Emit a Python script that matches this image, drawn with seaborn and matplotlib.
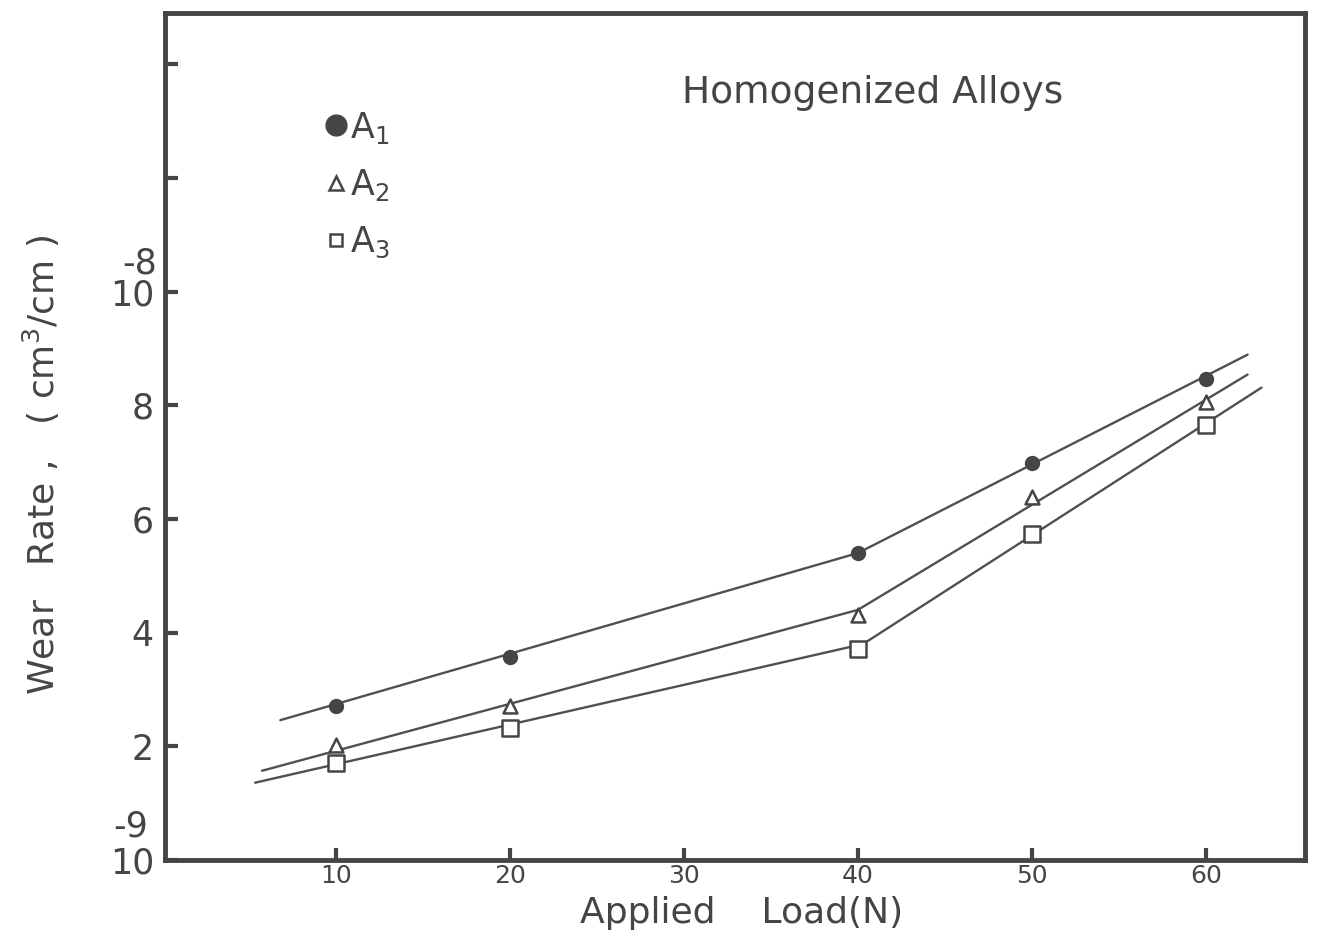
import pandas as pd
import matplotlib.pyplot as plt
import seaborn as sns
from matplotlib.lines import Line2D

# Measured points (applied load in N, wear rate in 1e-9 cm3/cm)
loads = [10, 20, 40, 50, 60]
wear_a1 = [2.71, 3.57, 5.40, 6.99, 8.47]
wear_a2 = [2.02, 2.71, 4.31, 6.39, 8.05]
wear_a3 = [1.71, 2.32, 3.71, 5.74, 7.66]

# Hand-drawn fit lines (start, kink, end)
fit_x_a1 = [6.8, 40.0, 62.4]
fit_y_a1 = [2.46, 5.40, 8.89]
fit_x_a2 = [5.75, 40.0, 62.4]
fit_y_a2 = [1.57, 4.40, 8.54]
fit_x_a3 = [5.35, 40.3, 63.2]
fit_y_a3 = [1.36, 3.80, 8.31]

alloys = ["A1", "A2", "A3"]
alloy_labels = ["A$_1$", "A$_2$", "A$_3$"]
x_ticks = [10, 20, 30, 40, 50, 60]
y_ticks = [0, 2, 4, 6, 8, 10, 12, 14]
y_tick_labels = ["10", "2", "4", "6", "8", "10", "", ""]
# exponents written above the "10" labels, as in the original
exponents = {0: "-9", 10: "-8"}

ink = "#454545"
line_col = "#505050"

sns.set_style("white")
plt.rcParams["font.family"] = ["DejaVu Sans"]
plt.rcParams["mathtext.fontset"] = "dejavusans"

points = pd.DataFrame({
    "load": loads * 3,
    "wear": wear_a1 + wear_a2 + wear_a3,
    "alloy": [a for a in alloys for _ in loads],
})
fits = pd.DataFrame({
    "load": fit_x_a1 + fit_x_a2 + fit_x_a3,
    "wear": fit_y_a1 + fit_y_a2 + fit_y_a3,
    "alloy": [a for a in alloys for _ in range(3)],
})

fig = plt.figure(figsize=(13.36, 9.36), dpi=100)
ax = fig.add_axes([165 / 1336, 76 / 936, 1140 / 1336, 847 / 936])

sns.lineplot(data=fits, x="load", y="wear", hue="alloy", units="alloy", estimator=None,
             sort=False, palette=[line_col] * 3, linewidth=1.7, legend=False, ax=ax)

styles = {
    "A1": dict(marker="o", s=85, color=ink, edgecolor=ink),
    "A2": dict(marker="^", s=100, color="white", edgecolor=ink),
    "A3": dict(marker="s", s=140, color="white", edgecolor=ink),
}
for a in alloys:
    sns.scatterplot(data=points[points["alloy"] == a], x="load", y="wear", linewidth=1.8,
                    zorder=3, legend=False, ax=ax, **styles[a])

ax.set_xlim(0.17, 65.7)
ax.set_ylim(0, 14.9)
ax.set_xticks(x_ticks)
ax.set_yticks(y_ticks)
ax.set_yticklabels(y_tick_labels)
ax.tick_params(axis="x", bottom=True, direction="in", length=9, width=3, color=ink,
               labelsize=18, labelcolor=ink, pad=3)
ax.tick_params(axis="y", left=True, direction="in", length=9, width=3, color=ink,
               labelsize=25, labelcolor=ink, pad=8)
for sp in ax.spines.values():
    sp.set_linewidth(3.5)
    sp.set_color(ink)

for val, txt in exponents.items():
    dx = -12 if val == 0 else -6
    dy = 24 if val == 0 else 20
    ax.annotate(txt, xy=(0, val), xycoords=("axes fraction", "data"),
                xytext=(dx, dy), textcoords="offset points", ha="right", va="center",
                fontsize=25, color=ink, annotation_clip=False)

ax.set_xlabel("Applied    Load(N)", fontsize=26, color=ink)
ax.xaxis.set_label_coords(0.506, -0.043)
ax.set_ylabel("Wear   Rate ,   ( cm$^3$/cm )", fontsize=26, color=ink)
ax.yaxis.set_label_coords(-0.09, 0.466)

ax.text(0.621, 0.905, "Homogenized Alloys", transform=ax.transAxes, fontsize=27,
        color=ink, ha="center", va="center")

handles = [
    Line2D([], [], marker="o", linestyle="none", markersize=15, color=ink),
    Line2D([], [], marker="^", linestyle="none", markersize=10, markerfacecolor="white",
           markeredgecolor=ink, markeredgewidth=1.8),
    Line2D([], [], marker="s", linestyle="none", markersize=9, markerfacecolor="white",
           markeredgecolor=ink, markeredgewidth=1.8),
]
leg = ax.legend(handles, alloy_labels, loc="upper left", bbox_to_anchor=(0.138, 0.886),
                frameon=False, fontsize=25, handlelength=0.8, handletextpad=0.0,
                labelspacing=0.62, borderpad=0, borderaxespad=0)
for t in leg.get_texts():
    t.set_color(ink)

fig.savefig("out.png", dpi=100, facecolor="white")
